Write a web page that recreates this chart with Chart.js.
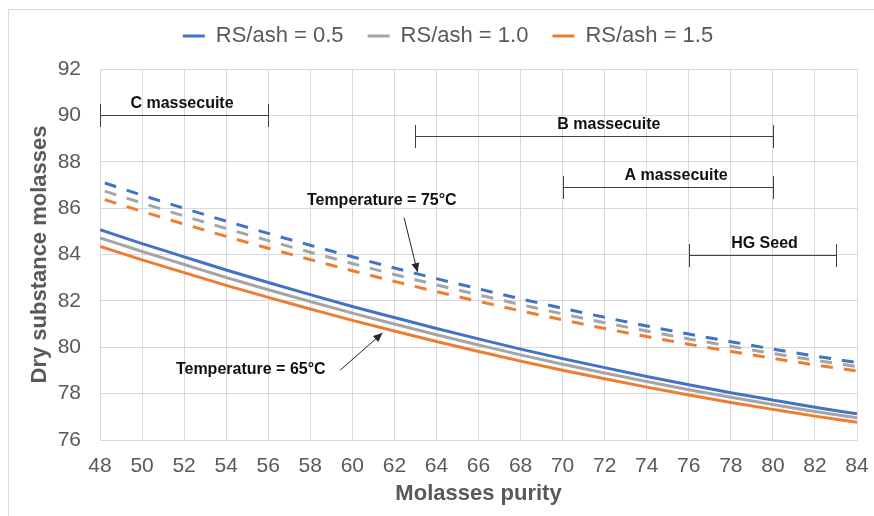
<!DOCTYPE html>
<html>
<head>
<meta charset="utf-8">
<title>Dry substance of molasses vs purity</title>
<script src="https://cdn.jsdelivr.net/npm/chart.js@4/dist/chart.umd.min.js"></script>
<style>
  html, body { margin: 0; padding: 0; background: #ffffff; }
  #wrap { position: relative; width: 874px; height: 516px; }
</style>
</head>
<body>
<div id="wrap"><canvas id="chart" width="874" height="516"></canvas></div>
<script>
// Molasses purity (x values)
const purity = [48, 50, 52, 54, 56, 58, 60, 62, 64, 66, 68, 70, 72, 74, 76, 78, 80, 82, 84];

// Dry substance of molasses at 65 °C
const ds65_rs05 = [85.07, 84.47, 83.90, 83.33, 82.79, 82.27, 81.76, 81.28, 80.81, 80.36, 79.92, 79.51, 79.12, 78.74, 78.38, 78.04, 77.72, 77.41, 77.13];
const ds65_rs10 = [84.72, 84.13, 83.57, 83.01, 82.48, 81.97, 81.47, 81.00, 80.54, 80.10, 79.67, 79.27, 78.89, 78.52, 78.17, 77.84, 77.53, 77.23, 76.96];
const ds65_rs15 = [84.35, 83.77, 83.22, 82.67, 82.15, 81.65, 81.16, 80.70, 80.25, 79.82, 79.40, 79.01, 78.64, 78.28, 77.94, 77.62, 77.32, 77.03, 76.77];

// Dry substance of molasses at 75 °C
const ds75_rs05 = [87.15, 86.56, 85.99, 85.44, 84.91, 84.40, 83.90, 83.42, 82.96, 82.52, 82.09, 81.68, 81.29, 80.92, 80.57, 80.24, 79.92, 79.62, 79.34];
const ds75_rs10 = [86.80, 86.22, 85.66, 85.12, 84.60, 84.10, 83.61, 83.14, 82.69, 82.26, 81.84, 81.44, 81.06, 80.70, 80.36, 80.04, 79.73, 79.44, 79.17];
const ds75_rs15 = [86.43, 85.86, 85.31, 84.78, 84.27, 83.78, 83.30, 82.84, 82.40, 81.98, 81.57, 81.18, 80.81, 80.46, 80.13, 79.82, 79.52, 79.24, 78.98];

const seriesNames = ['RS/ash = 0.5', 'RS/ash = 1.0', 'RS/ash = 1.5'];

// Axis ranges and tick steps
const xMin = 48, xMax = 84, xStep = 2;
const yMin = 76, yMax = 92, yStep = 2;

// Purity ranges of the massecuites (bracket start, end, level and label anchor)
const rangeNames   = ['C massecuite', 'B massecuite', 'A massecuite', 'HG Seed'];
const rangeStart   = [48, 63, 70, 76];
const rangeEnd     = [56, 80, 80, 83];
const rangeLevel   = [90, 89.1, 86.9, 84.0];
const rangeLabelAt = [51.9, 72.2, 75.4, 79.6];

// Temperature callouts: label anchor, arrow tail, arrow tip (purity, dry substance)
const calloutText  = ['Temperature = 75°C', 'Temperature = 65°C'];
const calloutLabel = [[61.4, 86.34], [55.17, 79.03]];
const calloutTail  = [[62.46, 85.59], [59.42, 79.01]];
const calloutTip   = [[63.1, 83.24], [61.43, 80.61]];

const colors = ['#4472C4', '#A5A5A5', '#ED7D31'];
const FONT = "'Liberation Sans', Arial, Helvetica, sans-serif";

const toPoints = (ys) => purity.map((p, i) => ({ x: p, y: ys[i] }));

function lineSet(label, ys, color, dashed) {
  return {
    label,
    data: toPoints(ys),
    borderColor: color,
    backgroundColor: color,
    borderWidth: 3,
    borderDash: dashed ? [12, 11] : [],
    borderDashOffset: dashed ? 18 : 0,
    pointRadius: 0,
    pointHoverRadius: 0,
    fill: false,
    cubicInterpolationMode: 'monotone'
  };
}

const datasets = [
  lineSet(seriesNames[0], ds65_rs05, colors[0], false),
  lineSet(seriesNames[1], ds65_rs10, colors[1], false),
  lineSet(seriesNames[2], ds65_rs15, colors[2], false),
  lineSet(seriesNames[0], ds75_rs05, colors[0], true),
  lineSet(seriesNames[1], ds75_rs10, colors[1], true),
  lineSet(seriesNames[2], ds75_rs15, colors[2], true)
];

// White background and the light outer frame
const backdrop = {
  id: 'backdrop',
  beforeDraw(chart) {
    const { ctx, width, height } = chart;
    ctx.save();
    ctx.fillStyle = '#ffffff';
    ctx.fillRect(0, 0, width, height);
    ctx.strokeStyle = '#d9d9d9';
    ctx.lineWidth = 1;
    ctx.strokeRect(8.5, 9.5, width + 20, height + 20);
    ctx.restore();
  }
};

// Fixed legend band height
const legendBand = {
  id: 'legendBand',
  afterInit(chart) {
    const legend = chart.legend;
    if (legend) {
      const baseFit = legend.fit;
      legend.fit = function () {
        baseFit.call(this);
        this.height = 68;
      };
    }
  }
};

function arrowLine(ctx, x0, y0, x1, y1) {
  ctx.beginPath();
  ctx.moveTo(x0, y0);
  ctx.lineTo(x1, y1);
  ctx.stroke();
  const ang = Math.atan2(y1 - y0, x1 - x0);
  const len = 9, half = 4;
  ctx.beginPath();
  ctx.moveTo(x1, y1);
  ctx.lineTo(x1 - len * Math.cos(ang) + half * Math.sin(ang), y1 - len * Math.sin(ang) - half * Math.cos(ang));
  ctx.lineTo(x1 - len * Math.cos(ang) - half * Math.sin(ang), y1 - len * Math.sin(ang) + half * Math.cos(ang));
  ctx.closePath();
  ctx.fill();
}

// Massecuite purity brackets and temperature callouts
const annotations = {
  id: 'annotations',
  afterDatasetsDraw(chart) {
    const { ctx, scales: { x, y } } = chart;
    ctx.save();
    ctx.lineWidth = 1;
    ctx.strokeStyle = '#404040';
    ctx.fillStyle = '#111111';
    ctx.font = 'bold 16px ' + FONT;
    ctx.textAlign = 'center';
    ctx.textBaseline = 'middle';
    const cap = 11.5;
    rangeNames.forEach((name, i) => {
      const x0 = Math.round(x.getPixelForValue(rangeStart[i])) + 0.5;
      const x1 = Math.round(x.getPixelForValue(rangeEnd[i])) + 0.5;
      const py = Math.round(y.getPixelForValue(rangeLevel[i])) + 0.5;
      ctx.beginPath();
      ctx.moveTo(x0, py); ctx.lineTo(x1, py);
      ctx.moveTo(x0, py - cap); ctx.lineTo(x0, py + cap);
      ctx.moveTo(x1, py - cap); ctx.lineTo(x1, py + cap);
      ctx.stroke();
      ctx.fillText(name, x.getPixelForValue(rangeLabelAt[i]), py - 12);
    });

    ctx.strokeStyle = '#262626';
    calloutText.forEach((t, i) => {
      ctx.fillStyle = '#111111';
      ctx.fillText(t, x.getPixelForValue(calloutLabel[i][0]), y.getPixelForValue(calloutLabel[i][1]));
      ctx.fillStyle = '#262626';
      arrowLine(ctx,
        x.getPixelForValue(calloutTail[i][0]), y.getPixelForValue(calloutTail[i][1]),
        x.getPixelForValue(calloutTip[i][0]), y.getPixelForValue(calloutTip[i][1]));
    });
    ctx.restore();
  }
};

new Chart(document.getElementById('chart'), {
  type: 'line',
  data: { datasets },
  options: {
    responsive: false,
    animation: false,
    events: [],
    layout: { padding: { top: 1, left: 39, right: 17, bottom: 0 } },
    plugins: {
      tooltip: { enabled: false },
      legend: {
        display: true,
        position: 'top',
        align: 'center',
        labels: {
          filter: (item) => item.datasetIndex < 3,
          usePointStyle: true,
          pointStyle: 'line',
          pointStyleWidth: 22,
          padding: 24,
          color: '#595959',
          font: { family: FONT, size: 22 }
        }
      }
    },
    scales: {
      x: {
        type: 'linear',
        min: xMin,
        max: xMax,
        afterFit: (s) => { s.height = 76; },
        ticks: {
          stepSize: xStep,
          padding: 0,
          color: '#595959',
          font: { family: FONT, size: 21 }
        },
        grid: { color: '#d9d9d9', lineWidth: 1, drawTicks: true, tickLength: 14, tickColor: 'rgba(0,0,0,0)' },
        border: { display: true, color: '#d9d9d9' },
        title: {
          display: true,
          text: 'Molasses purity',
          color: '#595959',
          font: { family: FONT, size: 22, weight: 'bold', lineHeight: 1.2 },
          padding: { top: 0, bottom: 8.5 }
        }
      },
      y: {
        type: 'linear',
        min: yMin,
        max: yMax,
        afterFit: (s) => { s.width = 61; },
        ticks: {
          stepSize: yStep,
          padding: 19,
          color: '#595959',
          font: { family: FONT, size: 21 }
        },
        grid: { color: '#d9d9d9', lineWidth: 1, drawTicks: false },
        border: { display: true, color: '#d9d9d9' },
        title: {
          display: true,
          text: 'Dry substance molasses',
          color: '#595959',
          font: { family: FONT, size: 22, weight: 'bold', lineHeight: 1.2 },
          padding: { top: -12.2, bottom: 0 }
        }
      }
    }
  },
  plugins: [backdrop, legendBand, annotations]
});
</script>
</body>
</html>
